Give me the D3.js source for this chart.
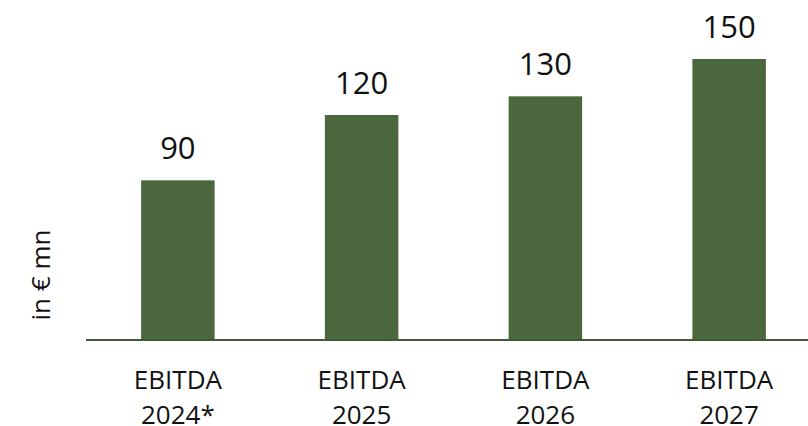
<!DOCTYPE html>
<html>
<head>
<meta charset="utf-8">
<script src="https://cdn.jsdelivr.net/npm/d3@7"></script>
<style>
  body { margin: 0; background: #fff; }
  text { font-family: "Open Sans", sans-serif; fill: #111; }
</style>
</head>
<body>
<script>
// Data.
var years = ["2024*", "2025", "2026", "2027"],
  categoryName = "EBITDA",
  // bar heights as drawn (the first bar is drawn a bit short of its label)
  barValues = [85, 120, 130, 150],
  valueLabels = ["90", "120", "130", "150"],
  unitLabel = "in € mn";

// Configuration parameters.
var width = 808,
  height = 426,
  baseline = 339,
  barColor = "#4a673e",
  axisColor = "#3f5a35";

var svg = d3.select("body").append("svg")
    .attr("width", width)
    .attr("height", height);

var x = d3.scaleBand()
    .domain(years)
    .range([86, 821])
    .paddingInner(0.6)
    .paddingOuter(0.3);

var y = d3.scaleLinear()
    .domain([0, 150])
    .range([baseline, baseline - 280]);

// Bars.
svg.append("g").selectAll("rect")
    .data(barValues)
  .enter().append("rect")
    .attr("x", function(d, i) { return x(years[i]); })
    .attr("y", function(d) { return y(d); })
    .attr("width", x.bandwidth())
    .attr("height", function(d) { return y(0) - y(d); })
    .style("fill", barColor);

// Baseline.
svg.append("line")
    .attr("x1", 86)
    .attr("x2", width)
    .attr("y1", baseline + 1)
    .attr("y2", baseline + 1)
    .style("stroke", axisColor)
    .style("stroke-width", 2);

// Value labels.
svg.append("g").selectAll("text")
    .data(barValues)
  .enter().append("text")
    .attr("x", function(d, i) { return x(years[i]) + x.bandwidth() / 2; })
    .attr("y", function(d) { return y(d) - 21; })
    .attr("text-anchor", "middle")
    .style("font-size", "31px")
    .text(function(d, i) { return valueLabels[i]; });

// Category labels, two lines each.
var cats = svg.append("g").selectAll("text")
    .data(years)
  .enter().append("text")
    .attr("text-anchor", "middle")
    .style("font-size", "26px")
    .attr("transform", function(d) {
      return "translate(" + (x(d) + x.bandwidth() / 2) + ",389)";
    });
cats.append("tspan")
    .attr("x", 0)
    .attr("y", 0)
    .text(categoryName);
cats.append("tspan")
    .attr("x", 0)
    .attr("y", 35)
    .text(function(d) { return d; });

// Unit label.
svg.append("text")
    .attr("transform", "translate(50,275) rotate(-90)")
    .attr("text-anchor", "middle")
    .style("font-size", "26px")
    .text(unitLabel);
</script>
</body>
</html>
